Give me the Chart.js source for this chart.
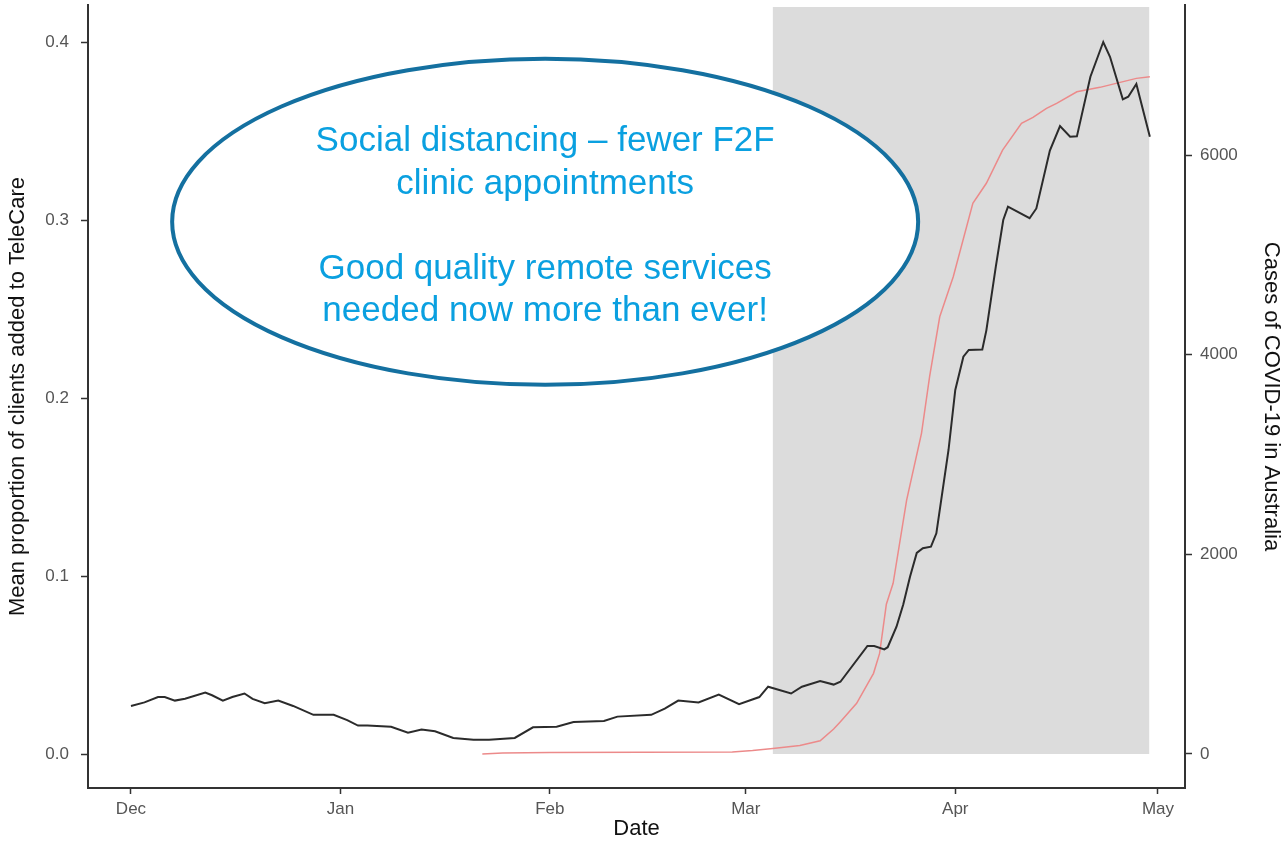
<!DOCTYPE html>
<html>
<head>
<meta charset="utf-8">
<script src="https://cdn.jsdelivr.net/npm/chart.js@4/dist/chart.umd.min.js"></script>
<style>
  body { margin: 0; background: #fff; }
  #wrap { width: 1285px; height: 842px; }
</style>
</head>
<body>
<div id="wrap"><canvas id="c" width="1285" height="842"></canvas></div>
<script>
// days since 1 Dec 2019
const tickDays = [0, 31, 62, 91, 122, 152];
const tickLabels = ['Dec', 'Jan', 'Feb', 'Mar', 'Apr', 'May'];
const leftTicks = [0, 0.1, 0.2, 0.3, 0.4];
const rightTicks = [0, 2000, 4000, 6000];

const propDays = [0, 2, 4, 5, 6.5, 8, 11, 12, 13.6, 15, 16.8, 18, 19.8, 21.8, 24, 27, 30, 32, 33.6, 35, 38.5, 41, 43, 45,
  47.7, 50.7, 53, 56.8, 59.5, 63, 65.5, 70, 72, 77, 79, 81, 84, 87, 90, 93, 94.3, 97.7, 99.3, 102, 104, 105,
  109, 110, 111.5, 112, 113.3, 114.3, 115.3, 116.3, 117.2, 118.4, 119.2, 121, 122, 123.2, 124, 126, 126.6, 128,
  129.1, 129.8, 133, 134, 136, 137.5, 139, 140, 142, 143.9, 144.9, 146.8, 147.6, 148.8, 150.8];
const propValues = [0.027, 0.029, 0.032, 0.032, 0.030, 0.031, 0.0345, 0.033, 0.030, 0.032, 0.034, 0.031, 0.0285, 0.030,
  0.027, 0.022, 0.022, 0.019, 0.016, 0.016, 0.0153, 0.012, 0.0138, 0.0128, 0.009, 0.008, 0.008, 0.009, 0.015,
  0.0153, 0.018, 0.0185, 0.021, 0.022, 0.0255, 0.030, 0.029, 0.0334, 0.028, 0.032, 0.0378, 0.034, 0.0378, 0.041,
  0.039, 0.0406, 0.0607, 0.0607, 0.0588, 0.060, 0.0715, 0.084, 0.0996, 0.113, 0.1156, 0.1165, 0.124, 0.1708,
  0.2045, 0.2232, 0.227, 0.2273, 0.238, 0.2738, 0.300, 0.3075, 0.301, 0.3065, 0.339, 0.3528, 0.3468, 0.347,
  0.3805, 0.400, 0.3917, 0.3678, 0.3693, 0.3764, 0.3468];

const caseDays = [52, 55, 62, 89, 92, 95, 99, 102, 104, 105, 107.4, 109.9, 110.8, 111.8, 112.8, 114.8, 117, 118.2,
  119.7, 121.7, 124.6, 126.6, 129, 131.8, 133.5, 135.5, 137, 140, 143.4, 145.8, 148.8, 150.8];
const caseValues = [0, 10, 15, 20, 35, 55, 85, 133, 250, 324, 508, 808, 1008, 1500, 1710, 2544, 3212, 3780,
  4380, 4781, 5516, 5717, 6050, 6317, 6377, 6468, 6518, 6634, 6678, 6718, 6768, 6785];

const shadeStart = 95, shadeEnd = 150.7;
const noteLines = ['Social distancing \u2013 fewer F2F', 'clinic appointments', 'Good quality remote services', 'needed now more than ever!'];

const sans = '"Liberation Sans", Arial, sans-serif';

const shade = {
  id: 'shade',
  beforeDatasetsDraw(chart) {
    const {ctx, chartArea, scales: {x, y}} = chart;
    ctx.save();
    ctx.fillStyle = '#dcdcdc';
    const x0 = x.getPixelForValue(shadeStart), x1 = x.getPixelForValue(shadeEnd);
    const y0 = y.getPixelForValue(0);
    ctx.fillRect(x0, chartArea.top + 2, x1 - x0, y0 - chartArea.top - 2);
    ctx.restore();
  }
};

const note = {
  id: 'note',
  afterDatasetsDraw(chart) {
    const {ctx, scales: {x, y}} = chart;
    const cx = x.getPixelForValue(61.3), cy = y.getPixelForValue(0.299);
    ctx.save();
    ctx.beginPath();
    ctx.ellipse(cx, cy, 373, 163, 0, 0, Math.PI * 2);
    ctx.fillStyle = '#fff';
    ctx.fill();
    ctx.lineWidth = 4;
    ctx.strokeStyle = '#1470a0';
    ctx.stroke();
    ctx.fillStyle = '#0aa0e0';
    ctx.font = '35px ' + sans;
    ctx.textAlign = 'center';
    ctx.textBaseline = 'middle';
    const ys = [-80, -37, 48, 90];
    noteLines.forEach((t, i) => ctx.fillText(t, cx, cy + ys[i]));
    ctx.restore();
  }
};

const noPad = s => { s.paddingTop = 0; s.paddingBottom = 0; };

new Chart(document.getElementById('c'), {
  type: 'line',
  data: {
    datasets: [{
      label: 'TeleCare',
      data: propDays.map((d, i) => ({x: d, y: propValues[i]})),
      borderColor: '#2b2b2b',
      borderWidth: 2,
      pointRadius: 0,
      tension: 0,
      yAxisID: 'y'
    }, {
      label: 'Cases',
      data: caseDays.map((d, i) => ({x: d, y: caseValues[i]})),
      borderColor: '#ec8a8a',
      borderWidth: 1.5,
      pointRadius: 0,
      tension: 0,
      yAxisID: 'y2'
    }]
  },
  options: {
    responsive: false,
    animation: false,
    layout: { padding: { top: 5, left: 0, right: 0, bottom: 0 } },
    plugins: { legend: { display: false }, tooltip: { enabled: false } },
    scales: {
      x: {
        type: 'linear',
        min: -6.36, max: 156,
        afterBuildTicks: s => { s.ticks = tickDays.map(v => ({value: v})); },
        afterFit: s => { s.height = 54; s.paddingLeft = 0; s.paddingRight = 0; },
        ticks: {
          callback: v => tickLabels[tickDays.indexOf(v)],
          color: '#555', font: { size: 17, family: sans }, padding: 5, maxRotation: 0
        },
        grid: { drawOnChartArea: false, tickLength: 6, tickColor: '#333', tickWidth: 1.5 },
        border: { color: '#333', width: 2 },
        title: { display: true, text: 'Date', color: '#111', font: { size: 22, family: sans }, padding: { top: -3, bottom: 0 } }
      },
      y: {
        position: 'left',
        min: -0.0191, max: 0.4208,
        afterBuildTicks: s => { s.ticks = leftTicks.map(v => ({value: v})); },
        afterFit: s => { s.width = 88; noPad(s); },
        ticks: {
          callback: v => v.toFixed(1),
          color: '#555', font: { size: 17, family: sans }, padding: 12
        },
        grid: { drawOnChartArea: false, tickLength: 7, tickColor: '#333', tickWidth: 1.5 },
        border: { color: '#333', width: 2 },
        title: { display: true, text: 'Mean proportion of clients added to TeleCare', color: '#111', font: { size: 22, family: sans }, padding: { top: 5, bottom: 0 } }
      },
      y2: {
        position: 'right',
        min: -340.6, max: 7503,
        afterBuildTicks: s => { s.ticks = rightTicks.map(v => ({value: v})); },
        afterFit: s => { s.width = 100; noPad(s); },
        ticks: {
          callback: v => String(v),
          color: '#555', font: { size: 17, family: sans }, padding: 8
        },
        grid: { drawOnChartArea: false, tickLength: 7, tickColor: '#333', tickWidth: 1.5 },
        border: { color: '#333', width: 2 },
        title: { display: true, text: 'Cases of COVID-19 in Australia', color: '#111', font: { size: 22, family: sans }, padding: { top: 1, bottom: 0 } }
      }
    }
  },
  plugins: [shade, note]
});
</script>
</body>
</html>
